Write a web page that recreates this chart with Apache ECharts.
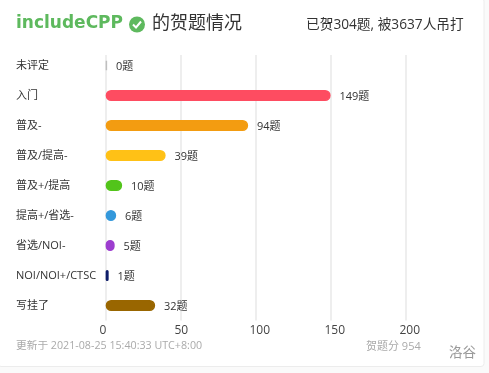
<!DOCTYPE html>
<html><head><meta charset="utf-8">
<style>html,body{margin:0;padding:0;background:#fafafa}#c{width:489px;height:373px}</style>
<script src="https://cdn.jsdelivr.net/npm/echarts@6/dist/echarts.min.js"></script>
</head><body><div id="c"></div>
<script>
const categories=['未评定','入门','普及-','普及/提高-','普及+/提高','提高+/省选-','省选/NOI-','NOI/NOI+/CTSC','写挂了'];
const values=[0,149,94,39,10,6,5,1,32];
const colors=['#bfbfbf','#fe4c61','#f39c11','#ffc116','#52c41a','#3498db','#9d3dcf','#0e1d69','#996600'];
const fam='"Open Sans","Noto Sans CJK SC",sans-serif';
const chart=echarts.init(document.getElementById('c'),null,{renderer:'canvas'});
chart.setOption({
  animation:false,
  backgroundColor:'transparent',
  grid:{left:106,top:50.5,width:300,height:270},
  xAxis:{type:'value',min:0,max:200,interval:50,
    axisLine:{show:false},axisTick:{show:false},
    splitLine:{show:true,showMinLine:true,showMaxLine:true,lineStyle:{color:'#eeeeee',width:2}},
    axisLabel:{color:'#444',fontSize:12,fontFamily:fam,margin:4,align:'left',padding:[0,0,0,-6.5],hideOverlap:false}},
  yAxis:{type:'category',inverse:true,data:categories,
    axisLine:{show:false},axisTick:{show:false},splitLine:{show:false},
    axisLabel:{color:'#333',fontSize:11,fontFamily:fam,align:'left',margin:90,padding:[4.5,0,0,0]}},
  series:[{type:'custom',encode:{x:0,y:1},clip:false,
    data:values.map((v,i)=>[v,i]),
    renderItem:(params,api)=>{
      const v=api.value(0), i=api.value(1);
      const p0=api.coord([0,i]), p1=api.coord([v,i]);
      const h=9.5;
      return {type:'group',children:[
        {type:'rect',shape:{x:p0[0]+0.4,y:p0[1]-h/2,width:p1[0]-p0[0],height:h,r:h/2},
         style:{fill:colors[i],stroke:colors[i],lineWidth:1.5}},
        {type:'text',x:p1[0]+10,y:p0[1]+1.5,
         style:{text:v+'题',fill:'#333',font:'11px '+fam,verticalAlign:'middle',align:'left'}}
      ]};
    }}],
  graphic:[
    {type:'rect',z:-10,silent:true,shape:{x:-2,y:-2,width:486,height:368.5,r:3},style:{fill:'#fff',stroke:'#ececec',lineWidth:1}},
    {type:'text',z:60,left:16,top:15,style:{text:'includeCPP',fill:'#5eb95e',font:'bold 17px "DejaVu Sans"'}},
    {type:'circle',z:60,shape:{cx:137,cy:24.5,r:8},style:{fill:'#5eb95e'}},
    {type:'polyline',z:61,shape:{points:[[133,24.5],[136,27.5],[141,21.5]]},style:{stroke:'#fff',lineWidth:2,fill:'none'}},
    {type:'text',z:60,left:152,top:15,style:{text:'的贺题情况',fill:'#333',font:'18px '+fam}},
    {type:'text',z:60,left:306,top:18,style:{text:'已贺304题, 被3637人吊打',fill:'#333',font:'13.7px '+fam}},
    {type:'text',z:60,left:16,top:341,style:{text:'更新于 2021-08-25 15:40:33 UTC+8:00',fill:'#aaa',font:'10.7px '+fam}},
    {type:'text',z:60,left:366,top:341,style:{text:'贺题分 954',fill:'#aaa',font:'11px '+fam}},
    {type:'text',z:60,left:449,top:346,style:{text:'洛谷',fill:'#999',font:'13.5px '+fam}},
    {type:'rect',z:50,silent:true,shape:{x:100,y:46,width:320,height:9},style:{fill:'#fff'}}
  ]
});
</script></body></html>
